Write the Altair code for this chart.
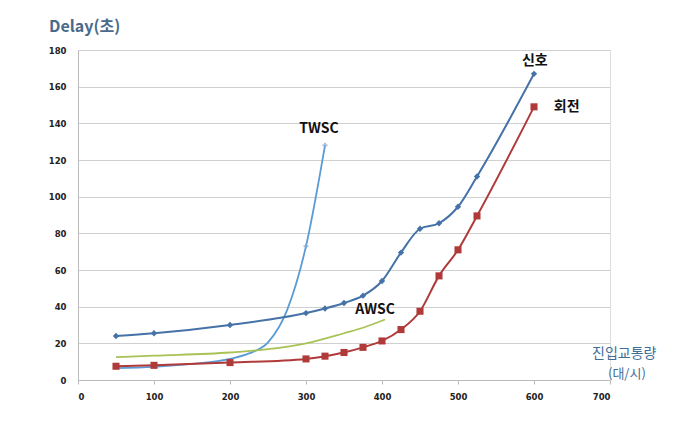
import altair as alt
import pandas as pd

sig_x = [50, 100, 200, 300, 325, 350, 375, 400, 425, 450, 475, 500, 525, 600]
sig_y = [24, 25.5, 30, 36.5, 39, 42, 46, 54, 69.5, 82.5, 85.5, 94.5, 111, 167]
rot_x = [50, 100, 200, 300, 325, 350, 375, 400, 425, 450, 475, 500, 525, 600]
rot_y = [7.5, 8, 9.5, 11.5, 13, 15, 17.8, 21.3, 27.5, 37.5, 56.8, 71, 89.5, 149]
twsc_x = [50, 100, 150, 200, 225, 250, 275, 300, 325]
twsc_y = [6.5, 7.2, 8.8, 11.5, 14.5, 20.5, 38, 73, 128]
awsc_x = [50, 100, 200, 250, 300, 350, 375, 404]
awsc_y = [12.5, 13.3, 15, 16.8, 20, 25.5, 28.5, 33]

C_SIG = "#4572A7"
C_ROT = "#B03A3A"
C_TW = "#5B9BD5"
C_AW = "#A8C256"

def df(xs, ys):
    return pd.DataFrame({"x": xs, "y": ys})

xs = alt.Scale(domain=[0, 700], nice=False)
ys = alt.Scale(domain=[0, 180], nice=False)

X = alt.X("x:Q", scale=xs, axis=alt.Axis(values=list(range(0, 701, 100)), grid=False, title=None,
          labelFont="DejaVu Sans", labelFontWeight="bold", labelFontSize=8.5, labelColor="#222",
          domainColor="#bbb", tickColor="#bbb", tickSize=4, labelPadding=8))
Y = alt.Y("y:Q", scale=ys, axis=alt.Axis(values=list(range(0, 181, 20)), grid=True, gridColor="#d0d0d0",
          title=None, labelFont="DejaVu Sans", labelFontWeight="bold", labelFontSize=8.5, labelColor="#222",
          domainColor="#bbb", ticks=False, labelPadding=12))

tw = alt.Chart(df(twsc_x, twsc_y)).mark_line(color=C_TW, strokeWidth=1.8, interpolate="monotone").encode(x=X, y=Y)
tw_pts = alt.Chart(df([300, 325], [73, 128])).mark_point(shape="cross", color="#7fa8d0", size=25, filled=True).encode(x=X, y=Y)

aw = alt.Chart(df(awsc_x, awsc_y)).mark_line(color=C_AW, strokeWidth=1.8, interpolate="monotone").encode(x=X, y=Y)

sig = alt.Chart(df(sig_x, sig_y)).mark_line(color=C_SIG, strokeWidth=2, interpolate="monotone").encode(x=X, y=Y)
sig_pts = alt.Chart(df(sig_x, sig_y)).mark_point(shape="diamond", color=C_SIG, filled=True, size=40, opacity=1).encode(x=X, y=Y)

rot = alt.Chart(df(rot_x, rot_y)).mark_line(color=C_ROT, strokeWidth=2, interpolate="monotone").encode(x=X, y=Y)
rot_pts = alt.Chart(df(rot_x, rot_y)).mark_point(shape="square", color=C_ROT, filled=True, size=50, opacity=1).encode(x=X, y=Y)

lab_text = ["TWSC", "AWSC", "신호", "회전"]
lab_x = [317, 391, 601, 643]
lab_y = [137, 38, 174, 149]
labels = alt.Chart(pd.DataFrame({"x": lab_x, "y": lab_y, "t": lab_text})).mark_text(
    font="Noto Sans CJK KR", fontSize=14, fontWeight="bold", color="#111").encode(x=X, y=Y, text="t:N")

title = alt.Chart(pd.DataFrame({"t": ["Delay(초)"]})).mark_text(
    font="Noto Sans CJK KR", fontSize=16, fontWeight="bold", color="#4A6A8A", align="left", baseline="middle"
).encode(x=alt.value(-29), y=alt.value(-23), text="t:N")

xt1 = alt.Chart(pd.DataFrame({"t": ["진입교통량"]})).mark_text(
    font="Noto Sans CJK KR", fontSize=14, color="#3E6E96", align="left", baseline="middle"
).encode(x=alt.value(514), y=alt.value(304), text="t:N")
xt2 = alt.Chart(pd.DataFrame({"t": ["(대/시)"]})).mark_text(
    font="Noto Sans CJK KR", fontSize=13, color="#3E6E96", align="left", baseline="middle"
).encode(x=alt.value(530), y=alt.value(324), text="t:N")

chart = alt.layer(tw, aw, sig, rot, tw_pts, sig_pts, rot_pts, labels, title, xt1, xt2).properties(
    width=532, height=330,
    autosize=alt.AutoSizeParams(type="none"),
    padding={"left": 70, "top": 42, "right": 80, "bottom": 33},
).configure_view(stroke=None).configure(background="white")

chart.save("out.html", embed_options={"renderer": "svg", "actions": False})
